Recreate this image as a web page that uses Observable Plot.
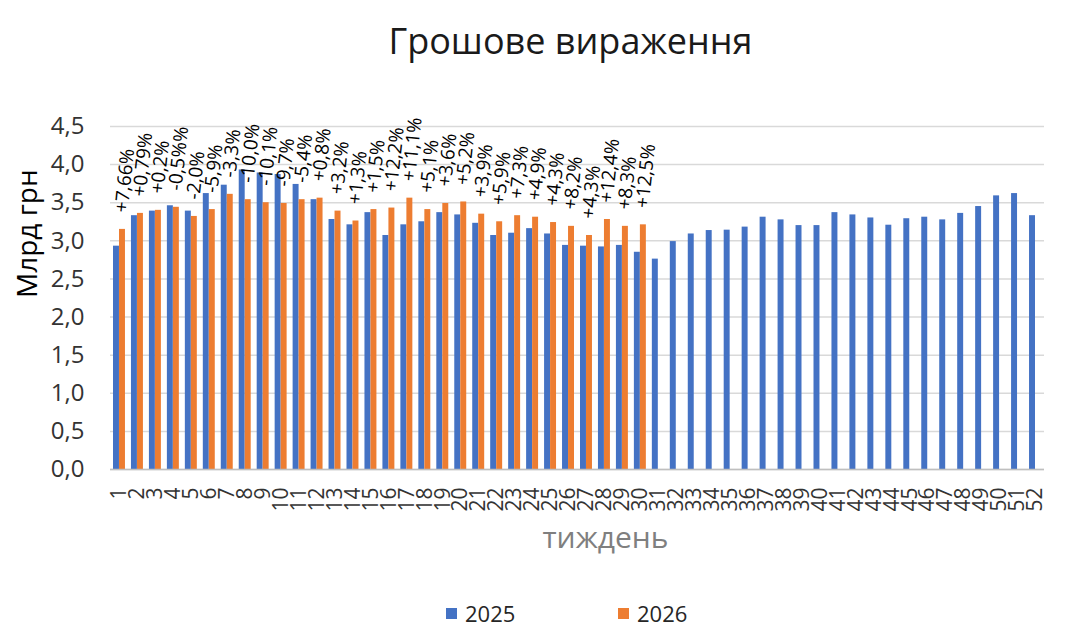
<!DOCTYPE html>
<html>
<head>
<meta charset="utf-8">
<script src="https://cdn.jsdelivr.net/npm/d3@7"></script>
<script src="https://cdn.jsdelivr.net/npm/@observablehq/plot@0.6"></script>
<style>
  html, body { margin: 0; padding: 0; background: #fff; }
  #wrap { position: relative; width: 1080px; height: 637px; font-family: "Open Sans", sans-serif; }
  #legend { position: absolute; top: 598px; left: 0; width: 1080px; height: 30px; }
  .sw { position: absolute; top: 10px; width: 11px; height: 11px; }
  .lt { position: absolute; top: 0; font-size: 22px; color: #262626; line-height: 30px; }
</style>
</head>
<body>
<div id="wrap"></div>
<script>
const weeks = ["1","2","3","4","5","6","7","8","9","10","11","12","13","14","15","16","17","18","19","20","21","22","23","24","25","26","27","28","29","30","31","32","33","34","35","36","37","38","39","40","41","42","43","44","45","46","47","48","49","50","51","52"];
const v2025 = [2.93,3.33,3.39,3.46,3.39,3.62,3.73,3.93,3.89,3.87,
               3.74,3.54,3.28,3.21,3.37,3.07,3.21,3.25,3.37,3.34,
               3.23,3.07,3.10,3.16,3.09,2.94,2.93,2.92,2.94,2.85,
               2.76,2.99,3.09,3.135,3.14,3.18,3.31,3.275,3.20,3.20,
               3.37,3.34,3.30,3.205,3.29,3.31,3.275,3.36,3.45,3.59,
               3.62,3.33];
const v2026 = [3.15,3.36,3.40,3.44,3.32,3.41,3.61,3.54,3.50,3.49,
               3.54,3.56,3.39,3.26,3.41,3.43,3.56,3.41,3.49,3.51,
               3.35,3.25,3.33,3.31,3.24,3.19,3.07,3.28,3.19,3.21];
const changeLabels = ["+7,66%","+0,79%","+0,2%","-0,5%%","-2,0%","-5,9%","-3,3%","-10,0%","-10,1%","-9,7%",
                      "-5,4%","+0,8%","+3,2%","+1,3%","+1,5%","+12,2%","+11,1%","+5,1%","+3,6%","+5,2%",
                      "+3,9%","+5,9%","+7,3%","+4,9%","+4,3%","+8,2%","+4,3%","+12,4%","+8,3%","+12,5%"];
const yTicks = [0,0.5,1.0,1.5,2.0,2.5,3.0,3.5,4.0,4.5];
const seriesNames = ["2025","2026"];
const seriesColors = ["#4472C4","#ED7D31"];
const titleText = "Грошове вираження";
const yTitle = "Млрд грн";
const xTitle = "тиждень";

const d2025 = weeks.map((w, i) => ({week: w, value: v2025[i]}));
const d2026 = v2026.map((v, i) => ({week: weeks[i], value: v, label: changeLabels[i]}));

const fmt = d => d.toFixed(1).replace(".", ",");

const chart = Plot.plot({
  width: 1080,
  height: 637,
  marginTop: 126,
  marginBottom: 168,
  marginLeft: 110,
  marginRight: 36,
  style: {fontFamily: "'Open Sans', sans-serif", background: "white", overflow: "visible"},
  x: {type: "band", domain: weeks, padding: 0, label: null},
  y: {domain: [0, 4.5], label: null},
  marks: [
    Plot.gridY(yTicks, {stroke: "#d9d9d9", strokeOpacity: 1, strokeWidth: 1.5}),
    Plot.barY(d2025, {x: "week", y: "value", fill: seriesColors[0], insetLeft: 3, insetRight: 9}),
    Plot.barY(d2026, {x: "week", y: "value", fill: seriesColors[1], insetLeft: 9, insetRight: 3}),
    Plot.ruleY([0], {stroke: "#bfbfbf", strokeWidth: 1.5}),
    Plot.axisY(yTicks, {tickSize: 0, tickPadding: 26, fontSize: 24, tickFormat: fmt, color: "#333", label: null}),
    Plot.axisX({tickSize: 0, tickRotate: -90, tickPadding: 18, fontSize: 21, color: "#333", label: null}),
    Plot.text(d2026, {x: "week", y: "value", text: "label", rotate: -84, textAnchor: "start", lineAnchor: "middle", dx: 2, dy: -17, fontSize: 19, fill: "#000"}),
    Plot.text([titleText], {frameAnchor: "top", dx: -7, dy: -84, fontSize: 36, fill: "#1a1a1a", lineAnchor: "middle"}),
    Plot.text([yTitle], {frameAnchor: "left", dx: -82, dy: 0, rotate: -90, fontSize: 28, fill: "#000", lineAnchor: "middle"}),
    Plot.text([xTitle], {frameAnchor: "bottom", dx: 28, dy: 69, fontSize: 30, fill: "#7f7f7f", lineAnchor: "middle"})
  ]
});

const wrap = document.getElementById("wrap");
wrap.appendChild(chart);
chart.style.position = "absolute";
chart.style.left = "0";
chart.style.top = "0";

const legend = document.createElement("div");
legend.id = "legend";
const swX = [446, 618];
const txX = [465, 637];
seriesNames.forEach((name, i) => {
  const sw = document.createElement("div");
  sw.className = "sw";
  sw.style.left = swX[i] + "px";
  sw.style.background = seriesColors[i];
  legend.appendChild(sw);
  const t = document.createElement("div");
  t.className = "lt";
  t.style.left = txX[i] + "px";
  t.textContent = name;
  legend.appendChild(t);
});
wrap.appendChild(legend);
</script>
</body>
</html>
